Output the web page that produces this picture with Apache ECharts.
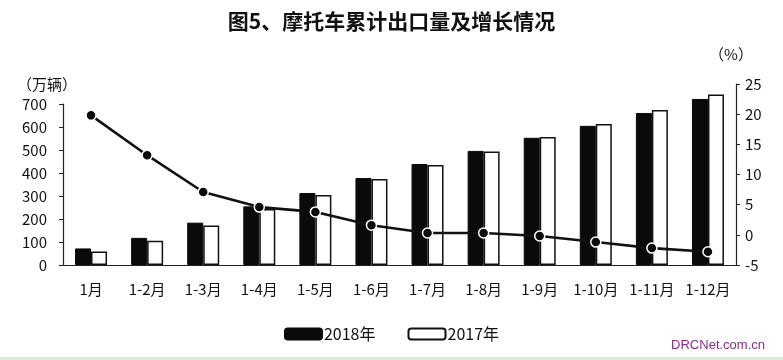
<!DOCTYPE html>
<html><head><meta charset="utf-8">
<script src="https://cdn.jsdelivr.net/npm/echarts@6/dist/echarts.min.js"></script>
<style>html,body{margin:0;padding:0;background:#fff}#c{width:783px;height:360px}</style>
</head><body><div id="c"></div>
<script>
const categories = ['1月','1-2月','1-3月','1-4月','1-5月','1-6月','1-7月','1-8月','1-9月','1-10月','1-11月','1-12月'];
const exports2018 = [72,118,184,255,313,378,439,496,553,605,661,722];
const exports2017 = [59,105,172,243,304,374,435,494,557,613,674,741];
const growthPct = [19.8,13.2,7.1,4.6,3.8,1.6,0.3,0.3,-0.2,-1.2,-2.2,-2.8];
const leftTicks = {min:0,max:700,interval:100};
const rightTicks = {min:-5,max:25,interval:5};

const FONT = '"Noto Sans CJK SC","Noto Sans",sans-serif';
const chart = echarts.init(document.getElementById('c'), null, {renderer:'canvas'});
const axisLabelStyle = {color:'#111', fontSize:15, fontFamily:FONT};
chart.setOption({
  backgroundColor:'#fff',
  animation:false,
  title:{text:'图5、摩托车累计出口量及增长情况', left:'center', top:6,
    textStyle:{fontSize:21, fontWeight:'bold', color:'#111', fontFamily:FONT}},
  legend:{bottom:13, left:'center', itemWidth:37, itemHeight:11, itemGap:32,
    textStyle:{fontSize:16, color:'#111', fontFamily:FONT, padding:[0,0,0,-3]},
    data:[{name:'2018年'},{name:'2017年'}]},
  grid:[
    {left:63, right:47, top:104, bottom:95},
    {left:63, right:47, top:84, bottom:95}
  ],
  xAxis:[
    {type:'category', gridIndex:0, data:categories, boundaryGap:true,
     axisLine:{lineStyle:{color:'#222', width:1.2}},
     axisTick:{length:4, lineStyle:{color:'#222'}},
     axisLabel:Object.assign({margin:17, interval:0}, axisLabelStyle)},
    {type:'category', gridIndex:1, data:categories, boundaryGap:true, show:false}
  ],
  yAxis:[
    {type:'value', gridIndex:0, min:leftTicks.min, max:leftTicks.max, interval:leftTicks.interval,
     name:'（万辆）', nameLocation:'end', nameGap:12,
     nameTextStyle:{fontSize:15, color:'#111', fontFamily:FONT, align:'right', padding:[0,-14,0,0]},
     axisLine:{show:true, lineStyle:{color:'#222', width:1.2}},
     axisTick:{show:true, length:4, lineStyle:{color:'#222'}},
     splitLine:{show:false},
     axisLabel:Object.assign({margin:16}, axisLabelStyle)},
    {type:'value', gridIndex:1, position:'right', min:rightTicks.min, max:rightTicks.max, interval:rightTicks.interval,
     name:'（%）', nameLocation:'end', nameGap:22,
     nameTextStyle:{fontSize:15, color:'#111', fontFamily:FONT, align:'center', padding:[0,0,0,-10]},
     axisLine:{show:true, lineStyle:{color:'#222', width:1.2}},
     axisTick:{show:true, length:4, lineStyle:{color:'#222'}},
     splitLine:{show:false},
     axisLabel:Object.assign({margin:9}, axisLabelStyle)}
  ],
  series:[
    {name:'2018年', type:'bar', xAxisIndex:0, yAxisIndex:0, data:exports2018, barWidth:16, barGap:'0%', clip:false,
     itemStyle:{color:'#0a0a0a', borderColor:'#0a0a0a', borderWidth:1}},
    {name:'2017年', type:'bar', xAxisIndex:0, yAxisIndex:0, data:exports2017, barWidth:16, clip:false,
     itemStyle:{color:'#fff', borderColor:'#111', borderWidth:1.5}},
    {name:'增长', type:'line', xAxisIndex:1, yAxisIndex:1, data:growthPct, z:5,
     symbol:'circle', symbolSize:10,
     lineStyle:{color:'#111', width:2.6},
     itemStyle:{color:'#0a0a0a', borderColor:'#fff', borderWidth:1.5}}
  ],
  graphic:[
    {type:'text', right:18, bottom:8, style:{text:'DRCNet.com.cn', fill:'#8a2c8a', fontSize:13, fontFamily:'"Liberation Sans",sans-serif'}},
    {type:'rect', shape:{x:0, y:357, width:783, height:3}, style:{fill:'#d9ecdc'}}
  ]
});
</script></body></html>
